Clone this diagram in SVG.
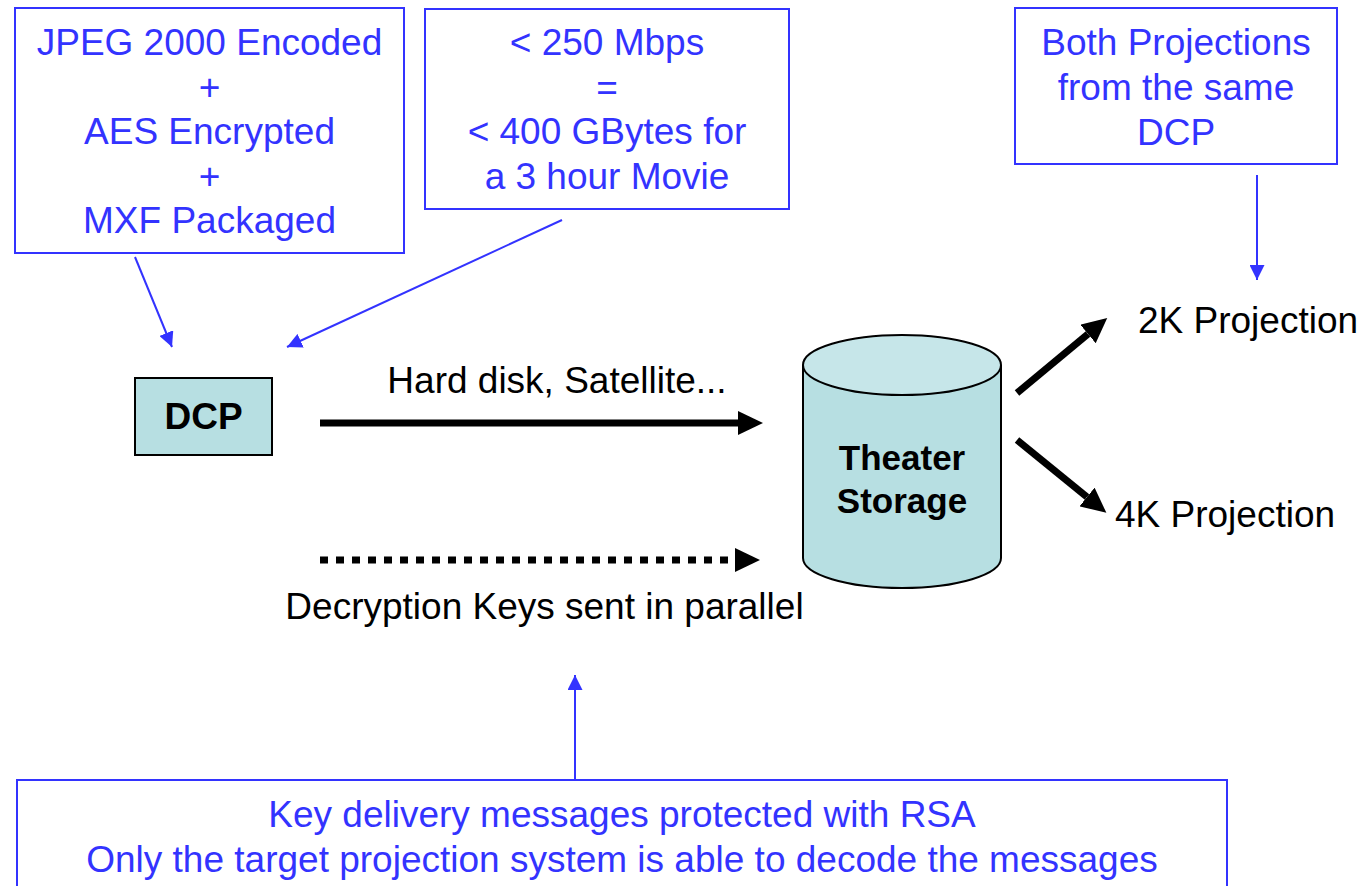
<svg xmlns="http://www.w3.org/2000/svg" width="1372" height="886" viewBox="0 0 1372 886">
<style>
.bt{font-family:"Liberation Sans",Arial,sans-serif;font-size:37px;fill:#3333ff;text-anchor:middle}
.kt{font-family:"Liberation Sans",Arial,sans-serif;font-size:37px;fill:#000}
.bb{fill:#fff;stroke:#3333ff;stroke-width:2}
.bl{stroke:#3333ff;stroke-width:2;fill:none}
.kl{stroke:#000;stroke-width:7;fill:none}
</style>
<defs>
<marker id="ba" markerUnits="userSpaceOnUse" markerWidth="16" markerHeight="15" refX="15" refY="7.5" orient="auto"><path d="M0,0 L15,7.5 L0,15 z" fill="#3333ff"/></marker>
<marker id="ka" markerUnits="userSpaceOnUse" markerWidth="26" markerHeight="24" refX="0" refY="12" orient="auto"><path d="M0,0 L25,12 L0,24 z" fill="#000"/></marker>
</defs>
<rect width="1372" height="886" fill="#fff"/>
<g id="box-encoding">
<rect class="bb" x="15" y="8" width="389" height="245"/>
<text class="bt" x="209.5" y="55">JPEG 2000 Encoded</text>
<text class="bt" x="209.5" y="99.5">+</text>
<text class="bt" x="209.5" y="144">AES Encrypted</text>
<text class="bt" x="209.5" y="188.5">+</text>
<text class="bt" x="209.5" y="233">MXF Packaged</text>
</g>
<g id="box-bitrate">
<rect class="bb" x="425" y="9" width="364" height="200"/>
<text class="bt" x="607" y="55">&lt; 250 Mbps</text>
<text class="bt" x="607" y="99.5">=</text>
<text class="bt" x="607" y="144">&lt; 400 GBytes for</text>
<text class="bt" x="607" y="188.5">a 3 hour Movie</text>
</g>
<g id="box-both">
<rect class="bb" x="1015" y="8" width="322" height="156"/>
<text class="bt" x="1176" y="55">Both Projections</text>
<text class="bt" x="1176" y="100">from the same</text>
<text class="bt" x="1176" y="145">DCP</text>
</g>
<g id="dcp">
<rect x="135" y="378" width="137" height="77" fill="#b7dfe2" stroke="#000" stroke-width="2"/>
<text x="203.5" y="429" style="font-family:'Liberation Sans',Arial,sans-serif;font-size:37px;font-weight:bold;text-anchor:middle">DCP</text>
</g>
<g id="storage">
<path d="M803,365 L803,558 A99,30 0 0 0 1001,558 L1001,365" fill="#b7dfe2" stroke="#000" stroke-width="2"/>
<ellipse cx="902" cy="365" rx="99" ry="30" fill="#c6e6e9" stroke="#000" stroke-width="2"/>
<text x="902" y="470" style="font-family:'Liberation Sans',Arial,sans-serif;font-size:35px;font-weight:bold;text-anchor:middle">Theater</text>
<text x="902" y="513" style="font-family:'Liberation Sans',Arial,sans-serif;font-size:35px;font-weight:bold;text-anchor:middle">Storage</text>
</g>
<g id="proj2k"><text class="kt" x="1138" y="333">2K Projection</text></g>
<g id="proj4k"><text class="kt" x="1115" y="527">4K Projection</text></g>
<g id="box-rsa">
<path class="bb" d="M17,887 L17,780 L1227,780 L1227,887"/>
<text class="bt" x="622" y="827">Key delivery messages protected with RSA</text>
<text class="bt" x="622" y="872">Only the target projection system is able to decode the messages</text>
</g>
<g id="connectors">
<line class="bl" x1="135" y1="257" x2="172" y2="347" marker-end="url(#ba)"/>
<line class="bl" x1="562" y1="220" x2="287" y2="347" marker-end="url(#ba)"/>
<line class="bl" x1="1257" y1="175" x2="1257" y2="280" marker-end="url(#ba)"/>
<line class="bl" x1="575" y1="779" x2="575" y2="675" marker-end="url(#ba)"/>
<line class="kl" x1="320" y1="423" x2="738" y2="423" marker-end="url(#ka)"/>
<line class="kl" x1="320" y1="560" x2="735" y2="560" stroke-dasharray="8 8" marker-end="url(#ka)"/>
<line class="kl" x1="1017" y1="393" x2="1088" y2="334" marker-end="url(#ka)"/>
<line class="kl" x1="1017" y1="440" x2="1087" y2="497" marker-end="url(#ka)"/>
<text class="kt" x="557" y="393" text-anchor="middle">Hard disk, Satellite...</text>
<text class="kt" x="544.5" y="619" text-anchor="middle">Decryption Keys sent in parallel</text>
</g>
</svg>
